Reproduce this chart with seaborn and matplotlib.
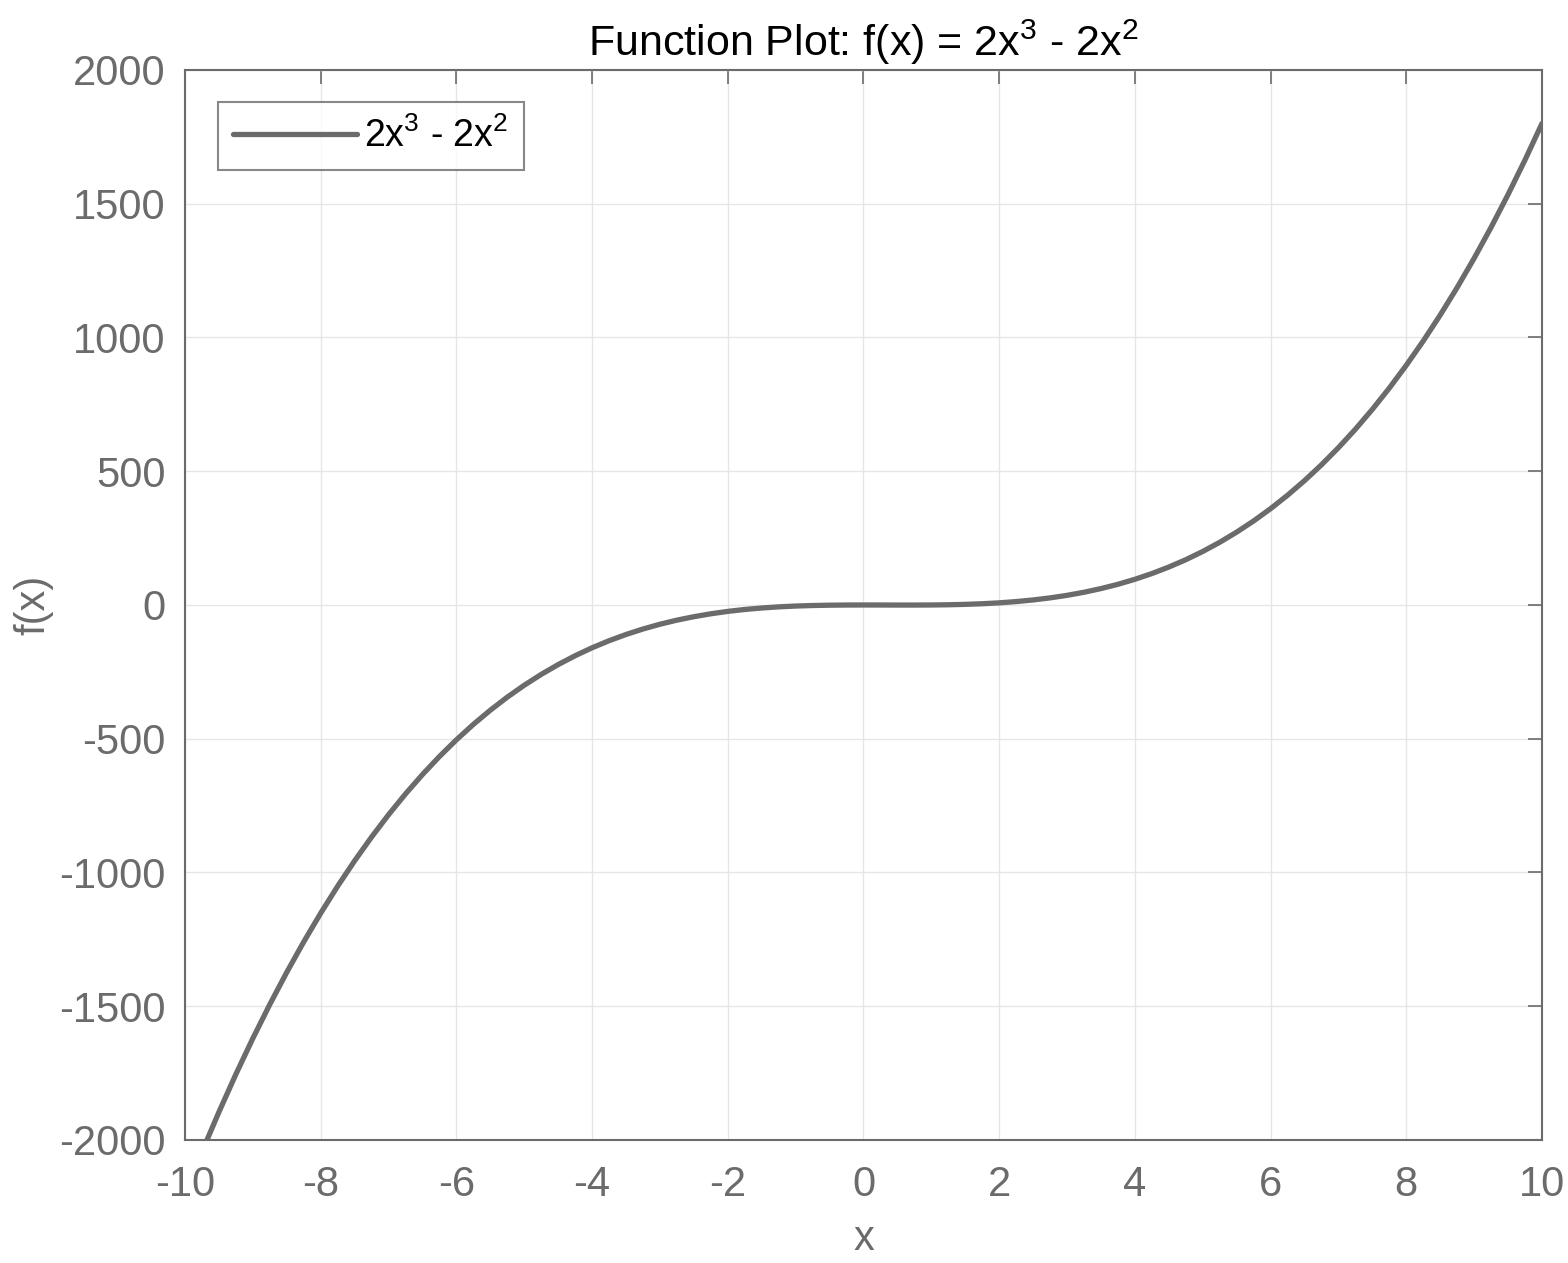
import matplotlib
matplotlib.use("Agg")
import matplotlib.pyplot as plt
import seaborn as sns
import pandas as pd

x_vals = [-10, -9.75, -9.5, -9.25, -9, -8.75, -8.5, -8.25, -8, -7.75, -7.5, -7.25, -7,
          -6.75, -6.5, -6.25, -6, -5.75, -5.5, -5.25, -5, -4.75, -4.5, -4.25, -4,
          -3.75, -3.5, -3.25, -3, -2.75, -2.5, -2.25, -2, -1.75, -1.5, -1.25, -1,
          -0.75, -0.5, -0.25, 0, 0.25, 0.5, 0.75, 1, 1.25, 1.5, 1.75, 2, 2.25, 2.5,
          2.75, 3, 3.25, 3.5, 3.75, 4, 4.25, 4.5, 4.75, 5, 5.25, 5.5, 5.75, 6, 6.25,
          6.5, 6.75, 7, 7.25, 7.5, 7.75, 8, 8.25, 8.5, 8.75, 9, 9.25, 9.5, 9.75, 10]
y_vals = [-2200, -2043.8, -1895.3, -1754.0, -1620, -1493.0, -1372.8, -1259.2, -1152,
          -1051.1, -956.3, -867.3, -784, -706.2, -633.8, -566.4, -504, -446.3, -393.3,
          -344.5, -300, -259.5, -222.8, -189.7, -160, -133.6, -110.3, -89.8, -72,
          -56.7, -43.8, -32.9, -24, -16.8, -11.3, -7.0, -4, -2.0, -0.8, -0.2, 0,
          -0.1, -0.3, -0.3, 0, 0.8, 2.3, 4.6, 8, 12.7, 18.8, 26.5, 36, 47.5, 61.3,
          77.3, 96, 117.4, 141.8, 169.2, 200, 234.3, 272.3, 314.1, 360, 410.2, 464.8,
          524.0, 588, 657.0, 731.3, 810.8, 896, 986.9, 1083.8, 1186.7, 1296, 1411.8,
          1534.3, 1663.6, 1800]
x_ticks = [-10, -8, -6, -4, -2, 0, 2, 4, 6, 8, 10]
y_ticks = [-2000, -1500, -1000, -500, 0, 500, 1000, 1500, 2000]
series_label = r"2x$^3$ - 2x$^2$"
title_text = r"Function Plot: f(x) = 2x$^3$ - 2x$^2$"

sns.set_theme(style="white")
plt.rcParams['font.family'] = ['Liberation Sans', 'DejaVu Sans']
plt.rcParams['mathtext.fontset'] = 'custom'
plt.rcParams['mathtext.rm'] = 'Liberation Sans'
plt.rcParams['mathtext.it'] = 'Liberation Sans'

gray = "#6b6b6b"
fig = plt.figure(figsize=(15.68, 12.63), dpi=100)
ax = fig.add_axes([0.118, 0.0974, 0.8654, 0.8472])

df = pd.DataFrame({"x": x_vals, "y": y_vals})
sns.lineplot(data=df, x="x", y="y", ax=ax, color=gray, linewidth=3.8, label=series_label)

ax.set_xlim(-10, 10)
ax.set_ylim(-2000, 2000)
ax.set_xticks(x_ticks)
ax.set_yticks(y_ticks)
ax.set_xticklabels([str(t) for t in x_ticks])
ax.set_yticklabels([str(t) for t in y_ticks])
ax.grid(True, color="#e6e6e6", linewidth=1.0)
ax.tick_params(axis="both", which="both", direction="in", length=10, width=1.2,
               colors=gray, labelsize=30, top=True, right=True)
ax.tick_params(axis="x", pad=18)
ax.tick_params(axis="y", pad=14)
for s in ax.spines.values():
    s.set_color(gray)
    s.set_linewidth(1.5)
    s.set_visible(True)

ax.set_xlabel("x", fontsize=30, color=gray, labelpad=10)
ax.set_ylabel("f(x)", fontsize=30, color=gray, labelpad=4)
ax.set_title(title_text, fontsize=31, color="black", pad=10)

leg = ax.legend(loc="upper left", bbox_to_anchor=(0.0243, 0.97), borderaxespad=0,
                fontsize=27, frameon=True, fancybox=False, handlelength=3.3,
                handletextpad=0.2, borderpad=0.4)
leg.get_frame().set_edgecolor(gray)
leg.get_frame().set_linewidth(1.5)
for t in leg.get_texts():
    t.set_color("black")

fig.savefig("out.png", dpi=100, facecolor="white")
